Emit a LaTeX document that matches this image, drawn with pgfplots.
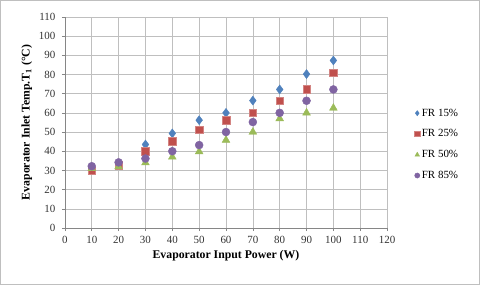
\documentclass[border=0pt]{standalone}
\usepackage{fontspec}
\setmainfont{Liberation Serif}
\usepackage{pgfplots}
\pgfplotsset{compat=1.18}
\definecolor{cblue}{HTML}{4F81BD}
\definecolor{cred}{HTML}{C0504D}
\definecolor{cgreen}{HTML}{9BBB59}
\definecolor{cpurple}{HTML}{8064A2}
\definecolor{gridc}{HTML}{BFBFBF}
\definecolor{axc}{HTML}{868686}
\begin{document}
\begin{tikzpicture}[x=1bp,y=1bp]
\draw[gridc, line width=0.75bp] (0.5,0.5) rectangle (479.5,284.5);
\begin{axis}[
  at={(65bp,57bp)}, anchor=south west,
  scale only axis, width=322bp, height=211bp,
  xmin=0, xmax=120, ymin=0, ymax=110,
  xtick={0,10,...,120}, ytick={0,10,...,110},
  grid=major,
  major grid style={gridc, line width=0.6bp},
  axis x line*=bottom, axis y line*=left,
  x axis line style={axc, line width=0.6bp},
  y axis line style={axc, line width=0.6bp},
  tick align=outside, major tick length=3bp,
  tick style={axc, line width=0.6bp},
  /pgf/number format/assume math mode=true,
  ticklabel style={font=\fontsize{11}{13}\selectfont, text=black!80},
  xticklabel style={yshift=-1.5bp},
  yticklabel style={xshift=-3bp},
  xlabel={\textbf{Evaporator Input Power (W)}},
  ylabel={\textbf{Evaporator Inlet Temp.T\textsubscript{1} (°C)}},
  label style={font=\fontsize{11.8}{14}\selectfont},
  clip=false,
  legend style={at={(1.085,0.575)}, anchor=north west, draw=none, fill=none,
    font=\fontsize{11}{13}\selectfont, row sep=8bp, inner sep=0pt,
    /tikz/every even column/.append style={column sep=2bp}},
  legend image post style={mark size=2.6bp},
  legend cell align=left,
  legend image code/.code={\draw[#1] plot coordinates {(0.2cm,0cm)};},
]
\addplot[only marks, mark=diamond*, mark size=4.5bp, color=cblue, mark options={fill=cblue}]
 coordinates {(10,30.5)(20,33)(30,43.5)(40,49.3)(50,56.2)(60,60)(70,66.4)(80,72.2)(90,80.2)(100,87.3)};
\addlegendentry{FR 15\%}
\addplot[only marks, mark=square*, mark size=3.8bp, color=cred, mark options={fill=cred, draw=cred!70!white}]
 coordinates {(10,29.9)(20,32.7)(30,40)(40,45.3)(50,51.2)(60,56.2)(70,60)(80,66.3)(90,72.2)(100,81)};
\addlegendentry{FR 25\%}
\addplot[only marks, mark=triangle*, mark size=4.5bp, color=cgreen, mark options={fill=cgreen}]
 coordinates {(10,31)(20,32)(30,34)(40,37)(50,39.8)(60,45.8)(70,50)(80,57)(90,60)(100,62.5)};
\addlegendentry{FR 50\%}
\addplot[only marks, mark=*, mark size=4bp, color=cpurple, mark options={fill=cpurple}]
 coordinates {(10,32.2)(20,34.2)(30,36.2)(40,40)(50,43.2)(60,50)(70,55.2)(80,60)(90,66.3)(100,72.2)};
\addlegendentry{FR 85\%}
\end{axis}
\end{tikzpicture}
\end{document}
